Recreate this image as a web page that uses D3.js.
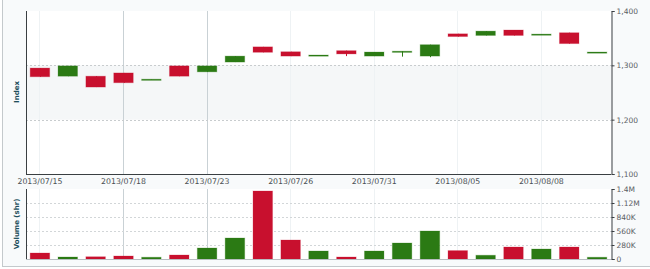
<!DOCTYPE html>
<html><head><meta charset="utf-8">
<script src="https://cdn.jsdelivr.net/npm/d3@7"></script>
<style>html,body{margin:0;padding:0;background:#fff;}svg{display:block;}</style>
</head><body>
<svg id="chart" width="650" height="269"></svg>
<script>
const dates = ["2013/07/15","2013/07/16","2013/07/17","2013/07/18","2013/07/19","2013/07/22","2013/07/23","2013/07/24","2013/07/25","2013/07/26","2013/07/29","2013/07/30","2013/07/31","2013/08/01","2013/08/02","2013/08/05","2013/08/06","2013/08/07","2013/08/08","2013/08/09","2013/08/12"];
const openV  = [1295,1280,1280,1286,1274,1299,1288,1306,1334,1325,1318.5,1327,1317,1325.5,1317,1358,1355,1365,1357,1360,1324];
const closeV = [1279,1299,1260,1268,1274.5,1280,1299,1317,1324,1317,1319,1321,1324.5,1326,1338,1353,1363,1355,1357.5,1340,1324.5];
const highV  = [1295,1299,1280,1286,1274.5,1299,1299,1317,1334,1325,1319,1327,1324.5,1326,1338,1358,1363,1365,1357.5,1360,1324.5];
const lowV   = [1279,1280,1260,1268,1274,1280,1288,1306,1324,1317,1318.5,1317,1317,1316,1315,1353,1355,1355,1357,1340,1324];
const volumeV = [120000,40000,45000,60000,35000,80000,220000,420000,1360000,380000,160000,40000,160000,320000,560000,168000,75000,240000,200000,240000,35000];
const labelDates = ["2013/07/15","2013/07/18","2013/07/23","2013/07/26","2013/07/31","2013/08/05","2013/08/08"];
const priceTicks = [1100,1200,1300,1400];
const volTicks = [0,280000,560000,840000,1120000,1400000];
const volTickLabels = ["0","280K","560K","840K","1.12M","1.4M"];

const RED = "#c8102e", GREEN = "#2b7a14";
const svg = d3.select("#chart");
const L = 26, R = 611, T1 = 11, B1 = 174, T2 = 189, B2 = 259;

// outer frame
svg.append("rect").attr("x",2.5).attr("y",-2).attr("width",660).attr("height",268.5)
  .attr("fill","#f8fafb").attr("stroke","#c4c9cc");

const x = d3.scaleBand().domain(dates).range([L,R]).paddingInner(0.3).paddingOuter(0.15);
const yP = d3.scaleLinear().domain([1100,1400]).range([B1,T1]);
const yV = d3.scaleLinear().domain([0,1400000]).range([B2,T2]);
const cx = d => x(d) + x.bandwidth()/2;

// panel backgrounds
svg.append("rect").attr("x",L).attr("y",T1).attr("width",R-L).attr("height",B1-T1).attr("fill","#fff");
svg.append("rect").attr("x",L).attr("y",yP(1300)).attr("width",R-L).attr("height",yP(1200)-yP(1300)).attr("fill","#f5f7f8");
svg.append("rect").attr("x",L).attr("y",T2).attr("width",R-L).attr("height",B2-T2).attr("fill","#fff");

// vertical grid
labelDates.forEach((d,i) => {
  const strong = (d==="2013/07/18"||d==="2013/07/23");
  [[T1,B1],[T2,B2]].forEach(([a,b]) => {
    svg.append("line").attr("x1",cx(d)).attr("x2",cx(d)).attr("y1",a).attr("y2",b)
      .attr("stroke", strong ? "#c9d1d5" : "#eef2f4").attr("stroke-width",1).attr("shape-rendering","crispEdges");
  });
});

// horizontal dashed grid
[1200,1300].forEach(v => svg.append("line").attr("x1",L).attr("x2",R).attr("y1",Math.round(yP(v))+0.5).attr("y2",Math.round(yP(v))+0.5)
  .attr("stroke","#c8ccce").attr("stroke-dasharray","2,2"));
volTicks.slice(1,5).forEach(v => svg.append("line").attr("x1",L).attr("x2",R).attr("y1",Math.round(yV(v))+0.5).attr("y2",Math.round(yV(v))+0.5)
  .attr("stroke","#d2d6d8").attr("stroke-dasharray","2,2"));

// candles
const idx = d3.range(dates.length);
const col = i => closeV[i] >= openV[i] ? GREEN : RED;
svg.append("g").selectAll("line").data(idx).join("line")
  .attr("x1",i=>Math.round(cx(dates[i]))+0.5).attr("x2",i=>Math.round(cx(dates[i]))+0.5)
  .attr("y1",i=>yP(highV[i])).attr("y2",i=>yP(lowV[i])).attr("stroke",col);
svg.append("g").selectAll("rect").data(idx).join("rect")
  .attr("x",i=>x(dates[i])).attr("width",x.bandwidth())
  .attr("y",i=>yP(Math.max(openV[i],closeV[i])))
  .attr("height",i=>Math.max(1.2, Math.abs(yP(openV[i])-yP(closeV[i]))))
  .attr("fill",col).attr("stroke",i=>col(i)).attr("stroke-opacity",0.25).attr("stroke-width",1);

// volume bars
svg.append("g").selectAll("rect").data(idx).join("rect")
  .attr("x",i=>x(dates[i])).attr("width",x.bandwidth())
  .attr("y",i=>yV(volumeV[i])).attr("height",i=>B2-yV(volumeV[i]))
  .attr("fill",col).attr("stroke",i=>col(i)).attr("stroke-opacity",0.25);

// panel borders
const dark = "#3a3f42";
svg.append("line").attr("x1",L+0.5).attr("x2",L+0.5).attr("y1",T1).attr("y2",B1).attr("stroke",dark);
svg.append("line").attr("x1",L).attr("x2",R).attr("y1",B1+0.5).attr("y2",B1+0.5).attr("stroke",dark);
svg.append("line").attr("x1",L+0.5).attr("x2",L+0.5).attr("y1",T2).attr("y2",B2).attr("stroke",dark);
svg.append("line").attr("x1",L).attr("x2",R).attr("y1",B2+0.5).attr("y2",B2+0.5).attr("stroke","#b8bec1");

// right axes
const fontF = "DejaVu Sans, Verdana, sans-serif";
const ax1 = svg.append("g").attr("transform",`translate(${R+0.5},0)`)
  .call(d3.axisRight(yP).tickValues(priceTicks).tickFormat(d3.format(",")).tickSize(3).tickPadding(2));
const ax2 = svg.append("g").attr("transform",`translate(${R+0.5},0)`)
  .call(d3.axisRight(yV).tickValues(volTicks).tickFormat((d,i)=>volTickLabels[i]).tickSize(3).tickPadding(2));
[ax1,ax2].forEach(a => {
  a.select(".domain").attr("stroke",dark);
  a.selectAll(".tick line").attr("stroke",dark);
  a.selectAll("text").attr("fill","#5a6064").style("font-family",fontF).style("font-size","7.5px");
});

// x labels
svg.append("g").selectAll("text").data(labelDates).join("text")
  .attr("x",d=>cx(d)).attr("y",184).attr("text-anchor","middle")
  .attr("fill","#4a5054").style("font-family",fontF).style("font-size","7.8px").text(d=>d);

// y titles
svg.append("text").attr("transform","translate(19,92) rotate(-90)").attr("text-anchor","middle")
  .attr("fill","#1f4f5c").style("font-family",fontF).style("font-size","7px").style("font-weight","bold").text("Index");
svg.append("text").attr("transform","translate(19,224) rotate(-90)").attr("text-anchor","middle")
  .attr("fill","#1f4f5c").style("font-family",fontF).style("font-size","7px").style("font-weight","bold").text("Volume (shr)");
</script>
</body></html>
